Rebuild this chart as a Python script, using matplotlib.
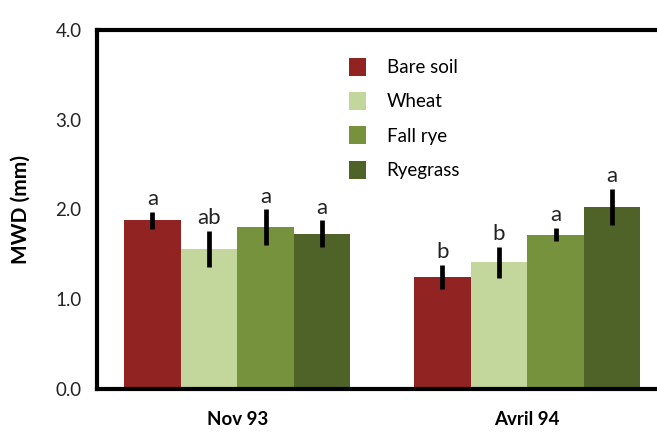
import numpy as np
import matplotlib.pyplot as plt

# Mean weight diameter by cover crop treatment
dates = ['Nov 93', 'Avril 94']
treatments = ['Bare soil', 'Wheat', 'Fall rye', 'Ryegrass']
colors = ['#922323', '#C3D69B', '#76923C', '#4F6228']

mwd = {
    'Bare soil': [1.88, 1.25],
    'Wheat': [1.56, 1.41],
    'Fall rye': [1.80, 1.72],
    'Ryegrass': [1.73, 2.03],
}
err = {
    'Bare soil': [0.095, 0.135],
    'Wheat': [0.20, 0.175],
    'Fall rye': [0.20, 0.075],
    'Ryegrass': [0.15, 0.20],
}
letters = {
    'Bare soil': ['a', 'b'],
    'Wheat': ['ab', 'b'],
    'Fall rye': ['a', 'a'],
    'Ryegrass': ['a', 'a'],
}

plt.rcParams['font.family'] = ['Lato', 'DejaVu Sans']

fig = plt.figure(figsize=(6.57, 4.32), dpi=100)
ax = fig.add_axes([0.1476, 0.0995, 0.8524, 0.8311])

x = np.arange(len(dates))
w = 0.195
for i, t in enumerate(treatments):
    pos = x + (i - 1.5) * w
    ax.bar(pos, mwd[t], width=w, color=colors[i], label=t, zorder=2)
    ax.errorbar(pos, mwd[t], yerr=err[t], fmt='none', ecolor='black',
                elinewidth=3.4, capsize=0, zorder=3)
    for xp, v, e, s in zip(pos, mwd[t], err[t], letters[t]):
        ax.text(xp, v + e + 0.03, s, ha='center', va='bottom',
                fontsize=16, color='#222222')

ax.set_xlim(-0.4836, 1.447)
ax.set_ylim(0, 4.0)
ax.set_yticks([0, 1, 2, 3, 4])
ax.set_yticklabels(['0.0', '1.0', '2.0', '3.0', '4.0'], fontsize=13.5,
                   color='#222222')
ax.set_xticks(x)
ax.set_xticklabels(dates, fontsize=13.5, fontweight='bold')
ax.tick_params(axis='both', length=0)
ax.tick_params(axis='y', pad=11)
ax.tick_params(axis='x', pad=16)
ax.set_ylabel('MWD (mm)', fontsize=15, fontweight='bold', labelpad=18)

for side in ['left', 'top', 'bottom']:
    ax.spines[side].set_linewidth(3)
ax.spines['right'].set_visible(False)

ax.legend(loc='upper left', bbox_to_anchor=(0.42, 0.97), frameon=False,
          fontsize=13.5, handlelength=0.9, handleheight=1.1,
          handletextpad=1.1, labelspacing=0.85)

fig.savefig('out.png', dpi=100)
